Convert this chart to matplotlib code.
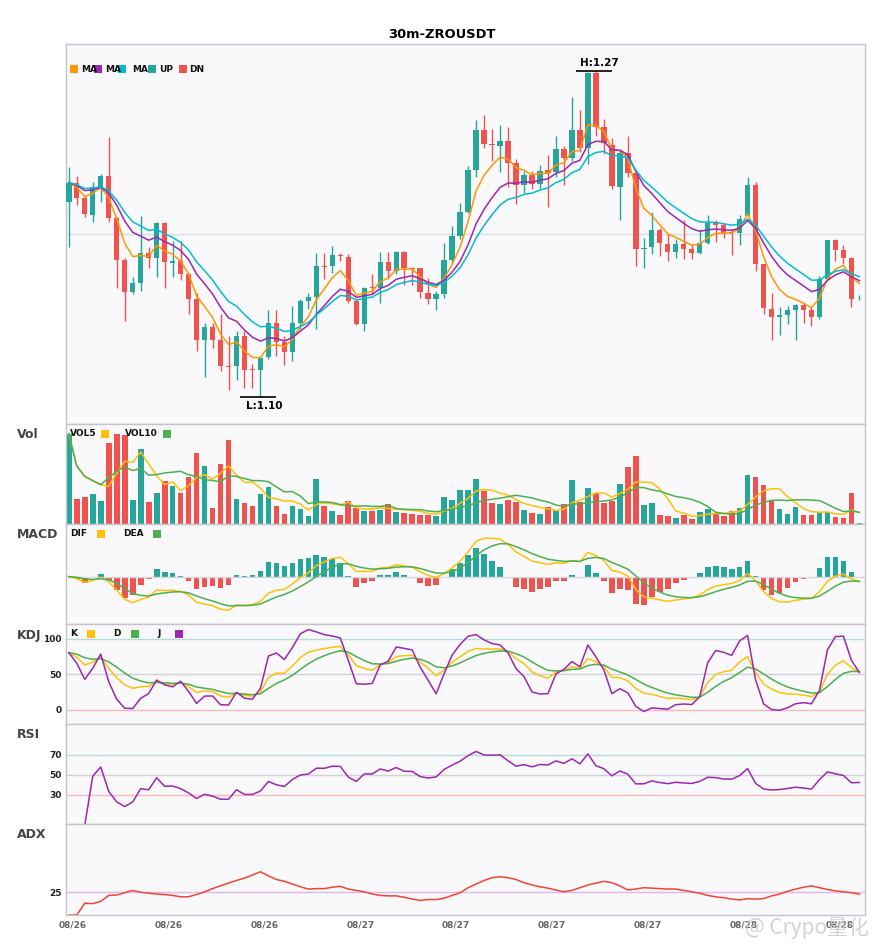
import numpy as np
import pandas as pd
import matplotlib
matplotlib.use("Agg")
import matplotlib.pyplot as plt
from matplotlib.patches import Rectangle
from matplotlib.transforms import ScaledTranslation

title = "30m-ZROUSDT"

opens = [1.2017, 1.2118, 1.2036, 1.1949, 1.2094, 1.2153, 1.1932, 1.1713, 1.1546, 1.1593,
         1.1749, 1.1723, 1.1906, 1.1699, 1.1709, 1.1640, 1.1510, 1.1297, 1.1365, 1.1297,
         1.1164, 1.1162, 1.1318, 1.1147, 1.1141, 1.1209, 1.1388, 1.1289, 1.1235, 1.1388,
         1.1499, 1.1521, 1.1684, 1.1682, 1.1739, 1.1729, 1.1501, 1.1383, 1.1572, 1.1567,
         1.1704, 1.1657, 1.1756, 1.1674, 1.1671, 1.1544, 1.1513, 1.1536, 1.1713, 1.1838,
         1.1963, 1.2182, 1.2391, 1.2319, 1.2309, 1.2333, 1.2220, 1.2106, 1.2156, 1.2109,
         1.2182, 1.2173, 1.2292, 1.2248, 1.2392, 1.2299, 1.2688, 1.2405, 1.2316, 1.2095,
         1.2271, 1.2167, 1.1773, 1.1782, 1.1869, 1.1800, 1.1756, 1.1796, 1.1770, 1.1751,
         1.1805, 1.1906, 1.1895, 1.1859, 1.1857, 1.1944, 1.2104, 1.1692, 1.1457, 1.1419,
         1.1428, 1.1452, 1.1478, 1.1452, 1.1417, 1.1614, 1.1819, 1.1767, 1.1725, 1.1515]

highs = [1.2199, 1.2153, 1.2048, 1.2121, 1.2161, 1.2356, 1.1940, 1.1723, 1.1626, 1.1944,
         1.1782, 1.1914, 1.1914, 1.1812, 1.1812, 1.1645, 1.1544, 1.1384, 1.1384, 1.1431,
         1.1318, 1.1344, 1.1344, 1.1174, 1.1217, 1.1452, 1.1452, 1.1318, 1.1475, 1.1510,
         1.1544, 1.1753, 1.1753, 1.1787, 1.1753, 1.1744, 1.1510, 1.1576, 1.1644, 1.1755,
         1.1755, 1.1761, 1.1761, 1.1680, 1.1674, 1.1619, 1.1553, 1.1805, 1.1892, 1.2014,
         1.2205, 1.2445, 1.2469, 1.2396, 1.2417, 1.2405, 1.2243, 1.2179, 1.2177, 1.2208,
         1.2260, 1.2358, 1.2309, 1.2561, 1.2497, 1.2695, 1.2700, 1.2448, 1.2351, 1.2292,
         1.2361, 1.2172, 1.1828, 1.1965, 1.1881, 1.1848, 1.1826, 1.1921, 1.1796, 1.1878,
         1.1951, 1.1921, 1.1906, 1.1875, 1.1948, 1.2146, 1.2121, 1.1695, 1.1544, 1.1471,
         1.1475, 1.1483, 1.1489, 1.1475, 1.1631, 1.1820, 1.1826, 1.1793, 1.1732, 1.1530]

lows = [1.1782, 1.2001, 1.1939, 1.1914, 1.2017, 1.1911, 1.1567, 1.1396, 1.1539, 1.1553,
        1.1671, 1.1626, 1.1567, 1.1626, 1.1609, 1.1431, 1.1240, 1.1104, 1.1254, 1.1136,
        1.1040, 1.1092, 1.1049, 1.1049, 1.1000, 1.1197, 1.1214, 1.1167, 1.1188, 1.1357,
        1.1457, 1.1353, 1.1614, 1.1649, 1.1709, 1.1492, 1.1374, 1.1344, 1.1536, 1.1492,
        1.1614, 1.1640, 1.1583, 1.1583, 1.1518, 1.1483, 1.1454, 1.1518, 1.1701, 1.1822,
        1.1958, 1.2149, 1.2299, 1.2231, 1.2175, 1.2095, 1.2005, 1.2066, 1.2083, 1.2083,
        1.1988, 1.2149, 1.2106, 1.2231, 1.2275, 1.2214, 1.2361, 1.2266, 1.2083, 1.1923,
        1.2147, 1.1683, 1.1675, 1.1748, 1.1735, 1.1709, 1.1727, 1.1718, 1.1718, 1.1744,
        1.1796, 1.1808, 1.1831, 1.1739, 1.1793, 1.1942, 1.1657, 1.1431, 1.1297, 1.1322,
        1.1379, 1.1297, 1.1384, 1.1370, 1.1409, 1.1609, 1.1709, 1.1692, 1.1471, 1.1506]

closes = [1.2118, 1.2038, 1.1954, 1.2094, 1.2153, 1.1932, 1.1713, 1.1548, 1.1593, 1.1749,
          1.1723, 1.1906, 1.1704, 1.1709, 1.1640, 1.1510, 1.1297, 1.1365, 1.1297, 1.1162,
          1.1160, 1.1318, 1.1144, 1.1142, 1.1202, 1.1388, 1.1289, 1.1235, 1.1388, 1.1499,
          1.1521, 1.1682, 1.1679, 1.1739, 1.1734, 1.1501, 1.1379, 1.1567, 1.1567, 1.1704,
          1.1657, 1.1756, 1.1671, 1.1669, 1.1548, 1.1513, 1.1536, 1.1713, 1.1838, 1.1963,
          1.2182, 1.2391, 1.2319, 1.2313, 1.2333, 1.2220, 1.2106, 1.2156, 1.2109, 1.2179,
          1.2170, 1.2292, 1.2248, 1.2392, 1.2299, 1.2688, 1.2408, 1.2323, 1.2100, 1.2271,
          1.2167, 1.1774, 1.1778, 1.1869, 1.1803, 1.1756, 1.1796, 1.1770, 1.1753, 1.1802,
          1.1906, 1.1895, 1.1857, 1.1854, 1.1930, 1.2104, 1.1692, 1.1464, 1.1417, 1.1428,
          1.1452, 1.1478, 1.1452, 1.1417, 1.1614, 1.1819, 1.1767, 1.1725, 1.1510, 1.1518]

# volume in thousands
volumes = [271, 76, 82, 91, 70, 244, 271, 266, 73, 226, 67, 94, 130, 115, 94, 142, 214, 175, 49, 181,
           253, 76, 64, 55, 91, 112, 55, 31, 55, 46, 25, 136, 55, 40, 28, 70, 49, 40, 40, 43,
           61, 37, 34, 31, 28, 28, 25, 82, 73, 103, 103, 136, 100, 64, 61, 73, 67, 43, 34, 31,
           52, 43, 61, 133, 67, 109, 94, 64, 70, 121, 172, 205, 58, 64, 28, 25, 19, 28, 16, 37,
           46, 31, 25, 40, 49, 148, 142, 118, 73, 46, 31, 52, 28, 28, 37, 37, 22, 19, 94, 2]

# ADX
adx = [20.0, 20.0, 22.6, 22.5, 23.0, 24.3, 24.4, 24.9, 25.4, 25.0,
       24.8, 24.6, 24.5, 24.3, 24.0, 24.0, 24.5, 25.1, 25.8, 26.4,
       27.0, 27.6, 28.1, 28.8, 29.5, 28.6, 27.8, 27.4, 26.8, 26.2,
       25.7, 25.8, 25.8, 26.1, 26.3, 25.7, 25.4, 25.1, 24.6, 24.3,
       24.2, 24.2, 23.9, 23.5, 23.2, 23.4, 23.4, 23.7, 24.3, 24.9,
       26.0, 26.8, 27.6, 28.2, 28.4, 28.2, 27.8, 27.1, 26.6, 26.2,
       25.9, 25.5, 25.1, 25.4, 26.0, 26.6, 27.0, 27.4, 27.1, 26.4,
       25.5, 25.7, 26.0, 25.9, 25.8, 25.7, 25.7, 25.4, 25.1, 24.8,
       24.3, 24.0, 23.8, 23.5, 23.3, 23.6, 23.5, 23.6, 24.2, 24.6,
       25.2, 25.7, 26.1, 26.4, 26.0, 25.6, 25.3, 25.1, 24.9, 24.6]

tick_pos = [0, 12, 24, 36, 48, 60, 72, 84, 96]
tick_labels = ["08/26", "08/26", "08/26", "08/27", "08/27", "08/27", "08/27", "08/28", "08/28"]

UP = "#26a69a"
DN = "#ef5350"
C_MA5, C_MA10, C_MA20 = "#ff9800", "#9c27b0", "#00bcd4"
C_Y, C_G, C_P = "#ffc107", "#4caf50", "#9c27b0"
FACE = "#f9f9fb"
SPINE = "#c4c4cc"

# ---- indicators
df = pd.DataFrame({"open": opens, "high": highs, "low": lows, "close": closes, "vol": volumes})
c = df["close"]
ma5 = c.ewm(span=5, adjust=False).mean()
ma10 = c.ewm(span=10, adjust=False).mean()
ma20 = c.ewm(span=14, adjust=False).mean()
vol5 = df["vol"].rolling(5, min_periods=1).mean()
vol10 = df["vol"].rolling(10, min_periods=1).mean()

dif = c.ewm(span=6, adjust=False).mean() - c.ewm(span=13, adjust=False).mean()
dea = dif.ewm(span=5, adjust=False).mean()
macd_hist = (dif - dea) * 2

llv = df["low"].rolling(9, min_periods=1).min()
hhv = df["high"].rolling(9, min_periods=1).max()
rsv = (c - llv) / (hhv - llv) * 100
k = rsv.ewm(com=2, adjust=False).mean()
d = k.ewm(com=2, adjust=False).mean()
j = 3 * k - 2 * d

delta = c.diff()
gain = delta.clip(lower=0).ewm(com=13).mean()
loss = (-delta.clip(upper=0)).ewm(com=13).mean()
rsi = 100 - 100 / (1 + gain / loss)

# ---- layout
W, H = 885, 950
fig = plt.figure(figsize=(W / 100, H / 100), dpi=100)
x = np.arange(len(closes))


def panel(top, bottom):
    ax = fig.add_axes([66 / W, 1 - bottom / H, 799 / W, (bottom - top) / H])
    ax.set_facecolor(FACE)
    for s in ax.spines.values():
        s.set_color(SPINE)
        s.set_linewidth(1)
    ax.set_xlim(-0.35, 99.7)
    ax.set_xticks(tick_pos)
    ax.set_xticklabels([])
    ax.tick_params(length=0)
    ax.set_yticks([])
    return ax


def fig_text(px, py, s, **kw):
    fig.text(px / W, 1 - py / H, s, **kw)


def fig_square(px, py, color, size=7.5):
    fig.add_artist(Rectangle((px / W, 1 - (py + size) / H), size / W, size / H,
                             transform=fig.transFigure, facecolor=color, edgecolor="none"))


ax = panel(44, 424)
ax_vol = panel(424, 524)
ax_macd = panel(524, 624)
ax_kdj = panel(624, 724)
ax_rsi = panel(724, 824)
ax_adx = panel(824, 915)

# ---- candles
o = np.array(opens)
cl = np.array(closes)
colors = np.where(cl >= o, UP, DN)
ax.vlines(x, lows, highs, colors=colors, lw=1, zorder=2)
ax.bar(x, np.maximum(np.abs(cl - o), 0.0004), bottom=np.minimum(o, cl), width=0.68,
       color=colors, lw=0, zorder=3)
ax.plot(x, ma5, color=C_MA5, lw=1.1, zorder=4)
ax.plot(x, ma10, color=C_MA10, lw=1.1, zorder=4)
ax.plot(x, ma20, color=C_MA20, lw=1.1, zorder=4)

lo, hi = min(lows), max(highs)
pad = (hi - lo) * 0.082
ax.set_ylim(lo - pad, hi + pad)
ax.axhline((lo + hi) / 2, color="#dcdce4", lw=1, zorder=1)

ih, il = int(np.argmax(highs)), int(np.argmin(lows))
ax.hlines(hi, ih - 2.5, ih + 2, color="black", lw=1.2, zorder=5)
ax.annotate(f"H:{hi:.2f}", (ih + 0.5, hi), xytext=(0, 2), textcoords="offset points",
            ha="center", va="bottom", fontsize=7.5, fontweight="bold")
ax.hlines(lo, il - 2.5, il + 2, color="black", lw=1.2, zorder=5)
ax.annotate(f"L:{lo:.2f}", (il + 0.5, lo), xytext=(0, -3), textcoords="offset points",
            ha="center", va="top", fontsize=7.5, fontweight="bold")

# ---- volume
ax_vol.bar(x, volumes, width=0.72, color=colors, lw=0)
ax_vol.plot(x, vol5, color=C_Y, lw=1.1)
ax_vol.plot(x, vol10, color=C_G, lw=1.1)
ax_vol.set_ylim(0, max(volumes) * 1.107)

# ---- macd
ax_macd.axhline(0, color="#d6d6dc", lw=1)
ax_macd.bar(x, macd_hist, width=0.72, color=np.where(macd_hist >= 0, UP, DN), lw=0)
ax_macd.plot(x, dif, color=C_Y, lw=1.1)
ax_macd.plot(x, dea, color=C_G, lw=1.1)
ax_macd.set_ylim(dif.min() * 1.41, dif.max() * 1.37)

# ---- kdj
for v, col in [(100, "#b2dfdb"), (50, "#d0d0d6"), (0, "#ffb8b8")]:
    ax_kdj.axhline(v, color=col, lw=1)
ax_kdj.plot(x, k, color=C_Y, lw=1.1)
ax_kdj.plot(x, d, color=C_G, lw=1.1)
ax_kdj.plot(x, j, color=C_P, lw=1.1)
ax_kdj.set_ylim(-20, 121)
ax_kdj.set_yticks([0, 50, 100])

# ---- rsi
for v, col in [(70, "#b2dfdb"), (50, "#d0d0d6"), (30, "#ffb8b8")]:
    ax_rsi.axhline(v, color=col, lw=1)
ax_rsi.plot(x, rsi, color=C_P, lw=1.1)
ax_rsi.set_ylim(1, 101)
ax_rsi.set_yticks([30, 50, 70])

# ---- adx
ax_adx.axhline(25, color="#e1b5ea", lw=1)
ax_adx.plot(x, adx, color="#f44336", lw=1.1)
ax_adx.set_ylim(20, 40)
ax_adx.set_yticks([25])

for a in (ax_kdj, ax_rsi, ax_adx):
    a.set_yticklabels([str(t) for t in a.get_yticks().astype(int)],
                      fontsize=6.5, fontweight="bold", color="#222222")
    a.tick_params(axis="y", pad=3)

ax_adx.set_xticklabels(tick_labels, fontsize=6.5, fontweight="bold", color="#666666")
ax_adx.tick_params(axis="x", pad=4)
shift = ScaledTranslation(4 / 100, 0, fig.dpi_scale_trans)
for lab in ax_adx.get_xticklabels():
    lab.set_transform(lab.get_transform() + shift)

# ---- text
fig_text(442, 34, title, ha="center", va="center", fontsize=9.4, fontweight="bold")

leg = dict(fontsize=6.5, fontweight="bold", va="center", color="#111111")
for px, col in [(70, C_MA5), (94, C_MA10), (118, C_MA20), (148, UP), (179, DN)]:
    fig_square(px, 65, col)
for px, lab in [(81, "MA"), (105, "MA"), (132, "MA"), (159, "UP"), (189, "DN")]:
    fig_text(px, 69, lab, **leg)

fig_text(70, 434, "VOL5", **leg)
fig_square(101, 430, C_Y)
fig_text(125, 434, "VOL10", **leg)
fig_square(163, 430, C_G)

fig_text(70, 534, "DIF", **leg)
fig_square(97, 530, C_Y)
fig_text(123, 534, "DEA", **leg)
fig_square(153, 530, C_G)

fig_text(70, 634, "K", **leg)
fig_square(87, 630, C_Y)
fig_text(113, 634, "D", **leg)
fig_square(131, 630, C_G)
fig_text(157, 634, "J", **leg)
fig_square(175, 630, C_P)

for py, lab in [(435, "Vol"), (535, "MACD"), (635, "KDJ"), (735, "RSI"), (835, "ADX")]:
    fig_text(17, py, lab, fontsize=9, fontweight="bold", color="#444444", va="center")

fig_text(745, 928, "@ Crypo量化", fontsize=15, color="#cccccc", alpha=0.85, va="center",
         family=["Noto Sans CJK SC", "DejaVu Sans"])

fig.savefig("out.png", dpi=100, facecolor="white")
